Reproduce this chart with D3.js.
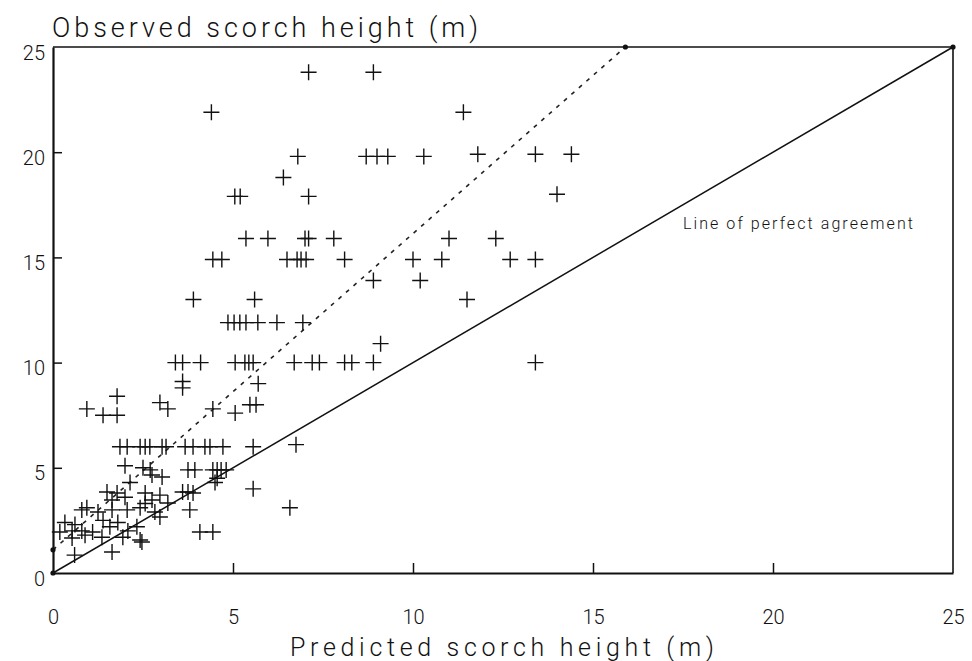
<!DOCTYPE html>
<html>
<head>
<meta charset="utf-8">
<script src="https://cdn.jsdelivr.net/npm/d3@7"></script>
<style>
  body { margin: 0; background: #fff; }
  svg { display: block; }
  text { font-family: Roboto, "DejaVu Sans", sans-serif; font-weight: 300; fill: #111; }
</style>
</head>
<body>
<svg id="canvas" width="972" height="661"></svg>
<script>
// predicted vs observed scorch height (m)
const predicted = [
  7.1, 8.9, 4.4, 11.4, 6.4, 6.8, 8.7, 9.0, 9.3, 10.3, 11.8, 13.4, 14.4,
  5.05, 5.2, 7.1, 14.0,
  5.36, 5.97, 7.0, 7.1, 7.8, 11.0, 12.3,
  4.44, 4.69, 6.5, 6.78, 6.89, 7.03, 8.1, 10.0, 10.8, 12.7, 13.4,
  8.9, 10.2,
  3.9, 5.6, 11.5,
  4.86, 5.03, 5.19, 5.36, 5.69, 6.22, 6.94,
  9.1,
  3.4, 3.6, 4.1, 5.06, 5.33, 5.44, 5.56, 6.7, 7.2, 7.4, 8.1, 8.3, 8.9, 13.4,
  3.6, 3.6, 5.7,
  0.94, 1.39, 1.78, 1.78, 2.97, 3.19, 4.44, 5.06, 5.47, 5.64,
  1.86, 2.06, 2.42, 2.56, 2.69, 3.03, 3.14, 3.67, 3.89, 4.22, 4.36, 4.72, 5.56, 6.75,
  2.0, 2.5, 2.7, 3.75, 3.94, 4.44, 4.56, 4.67, 4.81, 4.56, 4.5,
  2.14, 2.75, 3.03, 1.5, 1.78, 2.0, 1.64, 2.56, 2.75, 2.97, 3.19, 3.6, 3.75, 3.89, 5.56, 6.58, 3.8,
  0.8, 0.94, 1.25, 1.64, 2.06, 2.42, 2.56, 2.83, 2.97,
  0.33, 0.53, 0.61, 0.8, 1.1, 1.39, 1.58, 1.8, 2.08, 2.33, 2.42,
  0.19, 0.53, 0.89, 1.36, 1.94, 0.6, 1.64, 2.47, 4.08, 4.44
];
const observed = [
  23.8, 23.8, 21.9, 21.9, 18.8, 19.8, 19.8, 19.8, 19.8, 19.8, 19.9, 19.9, 19.9,
  17.9, 17.9, 17.9, 18.0,
  15.9, 15.9, 15.9, 15.9, 15.9, 15.9, 15.9,
  14.9, 14.9, 14.9, 14.9, 14.9, 14.9, 14.9, 14.9, 14.9, 14.9, 14.9,
  13.9, 13.9,
  13.0, 13.0, 13.0,
  11.9, 11.9, 11.9, 11.9, 11.9, 11.9, 11.9,
  10.9,
  10.0, 10.0, 10.0, 10.0, 10.0, 10.0, 10.0, 10.0, 10.0, 10.0, 10.0, 10.0, 10.0, 10.0,
  9.1, 8.8, 9.0,
  7.8, 7.5, 7.5, 8.4, 8.1, 7.8, 7.8, 7.6, 8.0, 8.0,
  6.0, 6.0, 6.0, 6.0, 6.0, 6.0, 6.0, 6.0, 6.0, 6.0, 6.0, 6.0, 6.0, 6.1,
  5.1, 5.0, 4.9, 4.9, 4.9, 4.9, 4.9, 4.9, 4.9, 4.5, 4.3,
  4.3, 4.66, 4.56, 3.85, 3.8, 3.6, 3.47, 3.8, 3.47, 3.7, 3.33, 3.85, 3.85, 3.8, 4.0, 3.1, 3.0,
  3.0, 3.1, 2.9, 3.0, 3.0, 3.1, 3.3, 2.9, 2.66,
  2.4, 2.0, 2.3, 2.0, 1.95, 2.5, 2.2, 2.4, 2.0, 2.2, 1.57,
  1.95, 1.66, 1.8, 1.7, 1.7, 0.85, 1.0, 1.47, 1.95, 1.95
];
const tickValues = [0, 5, 10, 15, 20, 25];
// fitted line (dashed) ends and the 1:1 line
const fitLine = [[0, 1.1], [15.9, 25]];
const perfectLine = [[0, 0], [25, 25]];

const svg = d3.select('#canvas');
const x = d3.scaleLinear().domain([0, 25]).range([53, 953]);
const y = d3.scaleLinear().domain([0, 25]).range([573, 47]);

// frame
svg.append('line').attr('x1', x(0)).attr('x2', x(25)).attr('y1', y(25)).attr('y2', y(25))
  .attr('stroke', '#111').attr('stroke-width', 1.6);
svg.append('line').attr('x1', x(25)).attr('x2', x(25)).attr('y1', y(0)).attr('y2', y(25))
  .attr('stroke', '#111').attr('stroke-width', 1.6);

// axes with inward ticks
const xAxis = svg.append('g').attr('transform', `translate(0,${y(0)})`)
  .call(d3.axisBottom(x).tickValues(tickValues).tickSize(-10).tickPadding(51).tickSizeOuter(0));
const yAxis = svg.append('g').attr('transform', `translate(${x(0)},0)`)
  .call(d3.axisLeft(y).tickValues(tickValues).tickSize(-9).tickPadding(8).tickSizeOuter(0));
[xAxis, yAxis].forEach(g => {
  g.select('.domain').attr('stroke', '#111').attr('stroke-width', 2.2);
  g.selectAll('.tick line').attr('stroke', '#111').attr('stroke-width', 1.5);
  g.selectAll('.tick text').attr('font-size', 20).attr('font-family', 'Roboto, "DejaVu Sans", sans-serif')
    .attr('font-weight', 300).attr('fill', '#111');
});
xAxis.selectAll('.tick').filter(d => d === 0 || d === 25).select('line').remove();
yAxis.selectAll('.tick').filter(d => d === 0 || d === 25).select('line').remove();
xAxis.selectAll('.tick text').attr('dy', '0');
yAxis.selectAll('.tick text').attr('dy', '0.6em');

// lines
const line = d3.line().x(d => x(d[0])).y(d => y(d[1]));
svg.append('path').attr('d', line(perfectLine)).attr('fill', 'none')
  .attr('stroke', '#111').attr('stroke-width', 1.5);
svg.append('path').attr('d', line(fitLine)).attr('fill', 'none')
  .attr('stroke', '#222').attr('stroke-width', 1.6).attr('stroke-dasharray', '4,6');

// end dots
svg.selectAll('circle.end').data([[0, 0], [0, 1.1], [15.9, 25], [25, 25]]).join('circle')
  .attr('class', 'end').attr('cx', d => x(d[0])).attr('cy', d => y(d[1])).attr('r', 2.6).attr('fill', '#111');

// plus markers
const pts = predicted.map((p, i) => ({p: p, o: observed[i]}));
svg.append('g').selectAll('path').data(pts).join('path')
  .attr('transform', d => `translate(${x(d.p)},${y(d.o)})`)
  .attr('d', 'M-8,0H8M0,-8V8')
  .attr('stroke', '#111').attr('stroke-width', 1.4).attr('fill', 'none');

// texts
svg.append('text').attr('x', 52).attr('y', 37).attr('font-size', 27)
  .attr('textLength', 426).attr('lengthAdjust', 'spacing').text('Observed scorch height (m)');
svg.append('text').attr('x', 290).attr('y', 656).attr('font-size', 25)
  .attr('textLength', 424).attr('lengthAdjust', 'spacing').text('Predicted scorch height (m)');
svg.append('text').attr('x', 683).attr('y', 229).attr('font-size', 16).attr('font-weight', 400)
  .attr('textLength', 230).attr('lengthAdjust', 'spacing').text('Line of perfect agreement');
</script>
</body>
</html>
